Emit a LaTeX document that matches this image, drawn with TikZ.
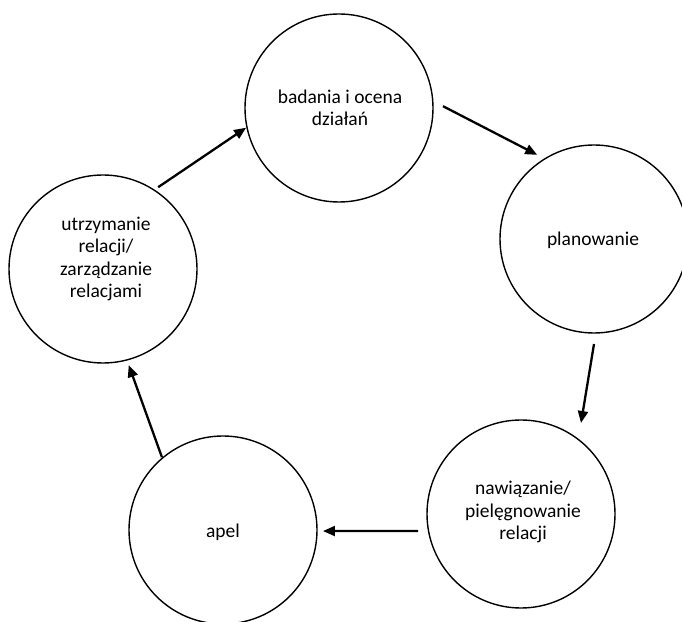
\documentclass[tikz,border=0pt]{standalone}
\usepackage{fontspec}
\setmainfont{Carlito}
\usetikzlibrary{arrows.meta,calc}

\begin{document}
\begin{tikzpicture}[x=1pt,y=1pt,
  stage/.style={circle,draw=black,line width=1.4pt,minimum size=188pt,inner sep=0pt},
  caption/.style={align=center,font=\fontsize{19.5}{22.5}\selectfont,inner sep=0pt},
  flow/.style={line width=2.3pt,-{Triangle[length=12pt,width=10pt]}}]
  \useasboundingbox (0,0) rectangle (682,621);

  % the five stages of the cycle
  \node[stage] (T)  at (339,513) {};
  \node[stage] (R)  at (594,382) {};
  \node[stage] (BR) at (521,107) {};
  \node[stage] (BL) at (223,91)  {};
  \node[stage] (L)  at (103,352) {};

  \node[caption] (Tt)  at (340,513) {badania i ocena\\działań};
  \node[caption] (Rt)  at (593,381) {planowanie};
  \node[caption] (BRt) at (523,109) {nawiązanie/\\pielęgnowanie\\relacji};
  \node[caption] (BLt) at (223,89)  {apel};
  \node[caption] (Lt)  at (106,362) {utrzymanie\\relacji/\\zarządzanie\\relacjami};

  % arrow end points just outside the circles
  \path (L)  ++(56:98.7)   coordinate (a1s);
  \path (T)  ++(192:95)    coordinate (a1e);
  \path (T)  ++(1:104)     coordinate (a2s);
  \path (R)  ++(124:101.5) coordinate (a2e);
  \path (R)  ++(270:105)   coordinate (a3s);
  \path (BR) ++(56.6:109)  coordinate (a3e);
  \path (BR) ++(189.4:104.4) coordinate (a4s);
  \path (BL) ++(-0.6:100)  coordinate (a4e);
  \path (BL) ++(130:95)    coordinate (a5s);
  \path (L)  ++(285:99.5)  coordinate (a5e);

  \draw[flow] (a1s) -- (a1e);
  \draw[flow] (a2s) -- (a2e);
  \draw[flow] (a3s) -- (a3e);
  \draw[flow] (a4s) -- (a4e);
  \draw[flow] (a5s) -- (a5e);
\end{tikzpicture}
\end{document}
